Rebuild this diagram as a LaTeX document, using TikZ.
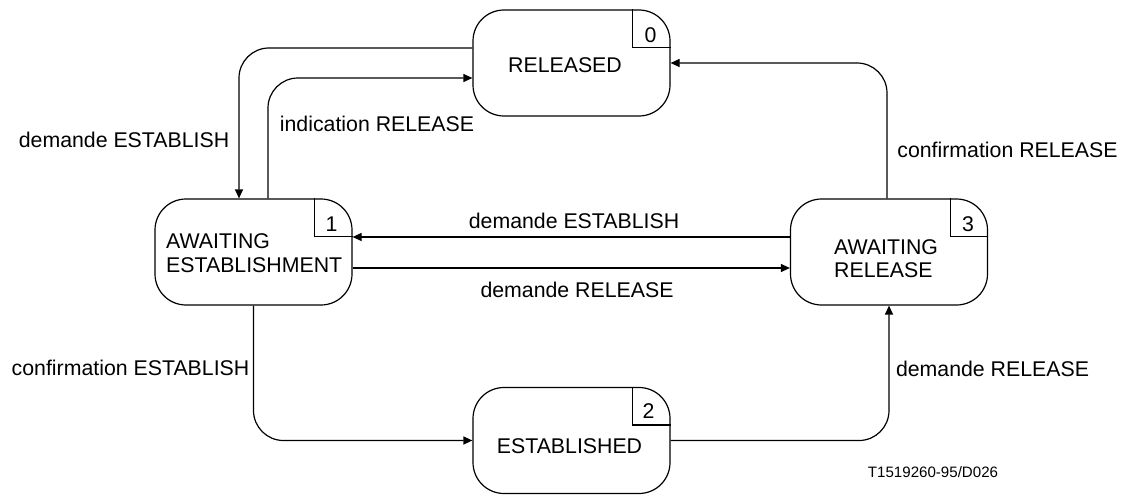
\documentclass[tikz,border=0pt]{standalone}
\usepackage{fontspec}
\setmainfont{Liberation Sans}
\usetikzlibrary{arrows.meta}
\begin{document}
\begin{tikzpicture}[x=1pt,y=-1pt,
  every node/.style={font=\fontsize{21.3}{23}\selectfont, inner sep=0pt},
  statebox/.style={draw, line width=1.2pt, rectangle, rounded corners=31pt, minimum width=197pt, minimum height=106pt},
  conn/.style={draw, line width=1.2pt, -{Triangle[length=9pt,width=8pt]}},
  roundbend/.style={rounded corners=30pt},
  txt/.style={anchor=base},
  btxt/.style={anchor=base west},
  num/.style={anchor=base},
  cornerline/.style={line width=1.2pt},
  smalltxt/.style={anchor=base, font=\fontsize{15.1}{17}\selectfont}]
\useasboundingbox (0,0) rectangle (1125,495);

% states
\node[statebox] (s0) at (571.5,63) {};
\node[statebox] (s1) at (253.5,252) {};
\node[statebox] (s3) at (889,252) {};
\node[statebox] (s2) at (571.5,440.5) {};

% state texts
\node[txt] (t0) at (565,72.7) {RELEASED};
\node[btxt, font=\fontsize{21.3}{24}\selectfont] (t1) at (166,248) {\begin{tabular}[t]{@{}l@{}}AWAITING\\ESTABLISHMENT\end{tabular}};
\node[btxt] (t3) at (834,254) {\begin{tabular}[t]{@{}l@{}}AWAITING\\RELEASE\end{tabular}};
\node[txt] (t2) at (569.5,453) {ESTABLISHED};

% corner boxes with numbers
\draw[cornerline] ([xshift=-38pt]s0.north east) |- ([yshift=-38pt]s0.north east);
\draw[cornerline] ([xshift=-38pt]s1.north east) |- ([yshift=-38pt]s1.north east);
\draw[cornerline] ([xshift=-38pt]s3.north east) |- ([yshift=-38pt]s3.north east);
\draw[cornerline] ([xshift=-38pt]s2.north east) |- ([yshift=-38pt]s2.north east);
\node[num] (n0) at ([xshift=-20pt,yshift=-33pt]s0.north east) {0};
\node[num] (n1) at ([xshift=-21pt,yshift=-33pt]s1.north east) {1};
\node[num] (n3) at ([xshift=-20pt,yshift=-33pt]s3.north east) {3};
\node[num] (n2) at ([xshift=-22pt,yshift=-32pt]s2.north east) {2};

% connectors
\draw[conn,roundbend] ([yshift=15pt]s0.west) -| ([xshift=-14.5pt]s1.north);
\draw[conn,roundbend] ([xshift=14.5pt]s1.north) |- ([yshift=-15pt]s0.west);
\draw[conn,roundbend] ([xshift=-2pt]s3.north) |- (s0.east);
\draw[conn] ([yshift=15pt]s3.west) -- ([yshift=15pt]s1.east);
\draw[conn] ([yshift=-16pt]s1.east) -- ([yshift=-16pt]s3.west);
\draw[conn,roundbend] (s1.south) |- (s2.west);
\draw[conn,roundbend] (s2.east) -| (s3.south);

% labels
\node[txt] (l1) at (124,147) {demande ESTABLISH};
\node[txt] (l2) at (377,131) {indication RELEASE};
\node[txt] (l3) at (1007.5,157) {confirmation RELEASE};
\node[txt] (l4) at (574,228) {demande ESTABLISH};
\node[txt] (l5) at (577,297) {demande RELEASE};
\node[txt] (l6) at (130.5,375) {confirmation ESTABLISH};
\node[txt] (l7) at (992.5,376) {demande RELEASE};
\node[smalltxt] (ref) at (933,477) {T1519260-95/D026};
\end{tikzpicture}
\end{document}
